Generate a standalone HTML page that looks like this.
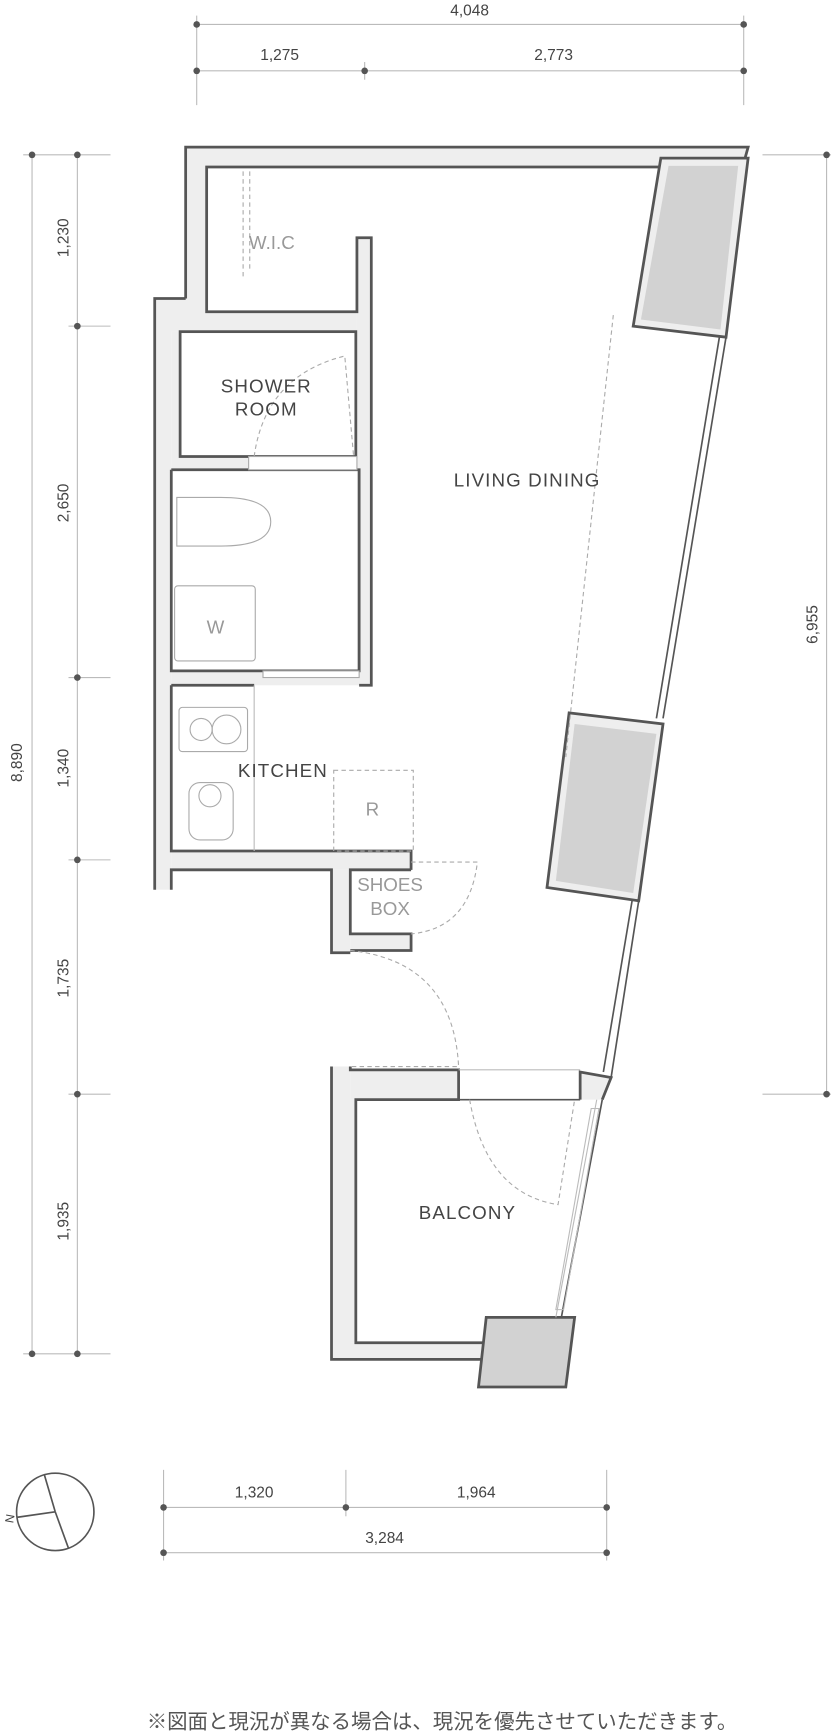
<!DOCTYPE html>
<html><head><meta charset="utf-8"><style>
html,body{margin:0;padding:0;background:#fff;width:831px;height:1733px;overflow:hidden}
svg{display:block}
text{font-family:"Liberation Sans","Noto Sans CJK JP",sans-serif}
</style></head><body>
<svg width="831" height="1733" viewBox="0 0 752 1568" xmlns="http://www.w3.org/2000/svg">
<!-- dimension lines -->
<g stroke="#bbb" stroke-width="1" fill="none">
<line x1="178" y1="22" x2="673" y2="22"/><line x1="178" y1="64" x2="673" y2="64"/>
<line x1="178" y1="14" x2="178" y2="95"/><line x1="673" y1="14" x2="673" y2="95"/><line x1="330" y1="56" x2="330" y2="72"/>
<line x1="29" y1="140" x2="29" y2="1225"/><line x1="70" y1="140" x2="70" y2="1225"/>
<line x1="21" y1="140" x2="100" y2="140"/><line x1="21" y1="1225" x2="100" y2="1225"/>
<line x1="62" y1="295" x2="100" y2="295"/><line x1="62" y1="613" x2="100" y2="613"/><line x1="62" y1="778" x2="100" y2="778"/><line x1="62" y1="990" x2="100" y2="990"/>
<line x1="748" y1="140" x2="748" y2="990"/><line x1="690" y1="140" x2="756" y2="140"/><line x1="690" y1="990" x2="756" y2="990"/>
<line x1="148" y1="1364" x2="549" y2="1364"/><line x1="148" y1="1405" x2="549" y2="1405"/>
<line x1="148" y1="1330" x2="148" y2="1412"/><line x1="549" y1="1330" x2="549" y2="1412"/><line x1="313" y1="1330" x2="313" y2="1372"/>
</g>
<g fill="#555">
<circle cx="178" cy="22" r="3"/><circle cx="673" cy="22" r="3"/><circle cx="178" cy="64" r="3"/><circle cx="330" cy="64" r="3"/><circle cx="673" cy="64" r="3"/>
<circle cx="29" cy="140" r="3"/><circle cx="29" cy="1225" r="3"/><circle cx="70" cy="140" r="3"/><circle cx="70" cy="295" r="3"/><circle cx="70" cy="613" r="3"/><circle cx="70" cy="778" r="3"/><circle cx="70" cy="990" r="3"/><circle cx="70" cy="1225" r="3"/>
<circle cx="748" cy="140" r="3"/><circle cx="748" cy="990" r="3"/>
<circle cx="148" cy="1364" r="3"/><circle cx="313" cy="1364" r="3"/><circle cx="549" cy="1364" r="3"/><circle cx="148" cy="1405" r="3"/><circle cx="549" cy="1405" r="3"/>
</g>
<g fill="#444" font-size="14" text-anchor="middle">
<text x="425" y="14">4,048</text><text x="253" y="54">1,275</text><text x="501" y="54">2,773</text>
<text x="230" y="1355">1,320</text><text x="431" y="1355">1,964</text><text x="348" y="1396">3,284</text>
<text transform="translate(20,690) rotate(-90)">8,890</text>
<text transform="translate(62,215) rotate(-90)">1,230</text>
<text transform="translate(62,455) rotate(-90)">2,650</text>
<text transform="translate(62,695) rotate(-90)">1,340</text>
<text transform="translate(62,885) rotate(-90)">1,735</text>
<text transform="translate(62,1105) rotate(-90)">1,935</text>
<text transform="translate(740,565) rotate(-90)">6,955</text>
</g>
<!-- wall fills -->
<g fill="#eee" stroke="none">
<polygon points="168,133 677,133 672,151 168,151"/>
<rect x="168" y="133" width="19" height="157"/>
<rect x="140" y="270" width="47" height="30"/>
<rect x="140" y="282" width="183" height="18"/>
<rect x="140" y="270" width="15" height="535"/>
<rect x="155" y="300" width="8" height="125"/>
<rect x="323" y="215" width="13" height="405"/>
<rect x="155" y="413" width="170" height="12"/>
<rect x="155" y="607" width="170" height="13"/>
<rect x="155" y="770" width="217" height="17"/>
<rect x="300" y="787" width="17" height="75"/>
<rect x="317" y="845" width="55" height="15"/>
<rect x="300" y="965" width="17" height="265"/>
<rect x="300" y="1215" width="140" height="15"/>
<rect x="317" y="968" width="98" height="27"/>
<rect x="300" y="995" width="22" height="220"/>
<polygon points="525,970 553,975 545,995 525,995"/>
</g>
<!-- wall outlines -->
<g fill="none" stroke="#555" stroke-width="2.5" stroke-linejoin="miter">
<path d="M168,270 L168,133 L677,133 L672,151"/>
<path d="M598,151 L187,151 L187,282 L323,282 L323,215 L336,215 L336,620 L325,620"/>
<path d="M168,270 L140,270 L140,805"/>
<rect x="163" y="300" width="159" height="113"/>
<path d="M155,425 L325,425 L325,607 L155,607 L155,425"/>
<path d="M155,620 L230,620"/>
<path d="M155,620 L155,770 L372,770 L372,787"/>
<path d="M155,805 L155,787 L300,787 L300,862 L317,862"/>
<path d="M372,787 L317,787 L317,845 L372,845 L372,860 L317,860"/>
<path d="M300,965 L300,1230 L436,1230"/>
<path d="M317,965 L317,968 L415,968 L415,995 L322,995 L322,1215 L440,1215"/>
<path d="M525,995 L525,970 L553,975 L545,995"/>
</g>
<!-- window gray blocks -->
<g stroke="#555" stroke-width="2.5">
<polygon points="598,143 677,143 657,305 573,295" fill="#eee"/>
<polygon points="605,150 668,150 652,298 580,289" fill="#d2d2d2" stroke="none"/>
<polygon points="515,645 600,655 578,815 495,803" fill="#eee"/>
<polygon points="520,655 594,664 573,808 503,797" fill="#d2d2d2" stroke="none"/>
<polygon points="440,1192 520,1192 512,1255 433,1255" fill="#d2d2d2"/>
</g>
<!-- window lines -->
<g stroke="#555" stroke-width="1.5" fill="none">
<line x1="657" y1="305" x2="600" y2="650"/><line x1="651" y1="305" x2="594" y2="650"/>
<line x1="578" y1="815" x2="553" y2="975"/><line x1="572" y1="815" x2="546" y2="970"/>
<line x1="545" y1="995" x2="508" y2="1192"/>
<line x1="415" y1="995" x2="525" y2="995"/>
</g>
<g stroke="#bbb" stroke-width="1" fill="none">
<line x1="540" y1="995" x2="503" y2="1192"/>
<polygon points="535,1003 542,1003 510,1185 503,1185"/>
<line x1="415" y1="968" x2="525" y2="968"/>
<line x1="230" y1="620" x2="230" y2="770"/>
</g>
<!-- dashed swings -->
<g stroke="#aaa" stroke-width="1" fill="none" stroke-dasharray="4,3">
<path d="M230,413 Q240,340 312,322 L320,413"/>
<path d="M317,860 Q410,870 415,965 L317,965"/>
<path d="M372,780 L432,780 Q425,840 372,845"/>
<path d="M425,995 Q440,1080 505,1090 L520,995"/>
<rect x="302" y="697" width="72" height="73"/>
<line x1="555" y1="285" x2="512" y2="685"/>
<line x1="220" y1="155" x2="220" y2="250"/><line x1="226" y1="155" x2="226" y2="245"/>
</g>
<!-- fixtures -->
<g stroke="#aaa" stroke-width="1" fill="none">
<path d="M160,450 L200,450 Q245,450 245,472 Q245,494 200,494 L160,494 Z"/>
<rect x="158" y="530" width="73" height="68" rx="3"/>
<rect x="162" y="640" width="62" height="40" rx="3"/>
<circle cx="182" cy="660" r="10"/><circle cx="205" cy="660" r="13"/>
<rect x="171" y="708" width="40" height="52" rx="10"/>
<circle cx="190" cy="720" r="10"/>
<rect x="225" y="413" width="98" height="12" fill="#fff"/>
<rect x="238" y="607" width="87" height="6" fill="#fff"/>
</g>
<!-- labels -->
<g fill="#444" font-size="17" text-anchor="middle" letter-spacing="1">
<text x="241" y="355">SHOWER</text><text x="241" y="376">ROOM</text>
<text x="477" y="440">LIVING DINING</text>
<text x="256" y="703">KITCHEN</text>
<text x="423" y="1103">BALCONY</text>
</g>
<g fill="#999" font-size="17" text-anchor="middle">
<text x="246" y="225">W.I.C</text>
<text x="195" y="573">W</text>
<text x="337" y="738">R</text>
<text x="353" y="806">SHOES</text><text x="353" y="828">BOX</text>
</g>
<!-- compass -->
<circle cx="50" cy="1368" r="35" fill="none" stroke="#555" stroke-width="1.5"/>
<line x1="15" y1="1373" x2="50" y2="1368" stroke="#555" stroke-width="1.5"/>
<line x1="50" y1="1368" x2="62" y2="1401" stroke="#555" stroke-width="1.5"/>
<line x1="50" y1="1368" x2="40" y2="1334" stroke="#555" stroke-width="1.5"/>
<text x="8" y="1382" font-size="11" fill="#444" transform="rotate(-80 8 1378)">N</text>
<text x="400" y="1564" font-size="18.5" fill="#555" text-anchor="middle">※図面と現況が異なる場合は、現況を優先させていただきます。</text>
</svg>
</body></html>
